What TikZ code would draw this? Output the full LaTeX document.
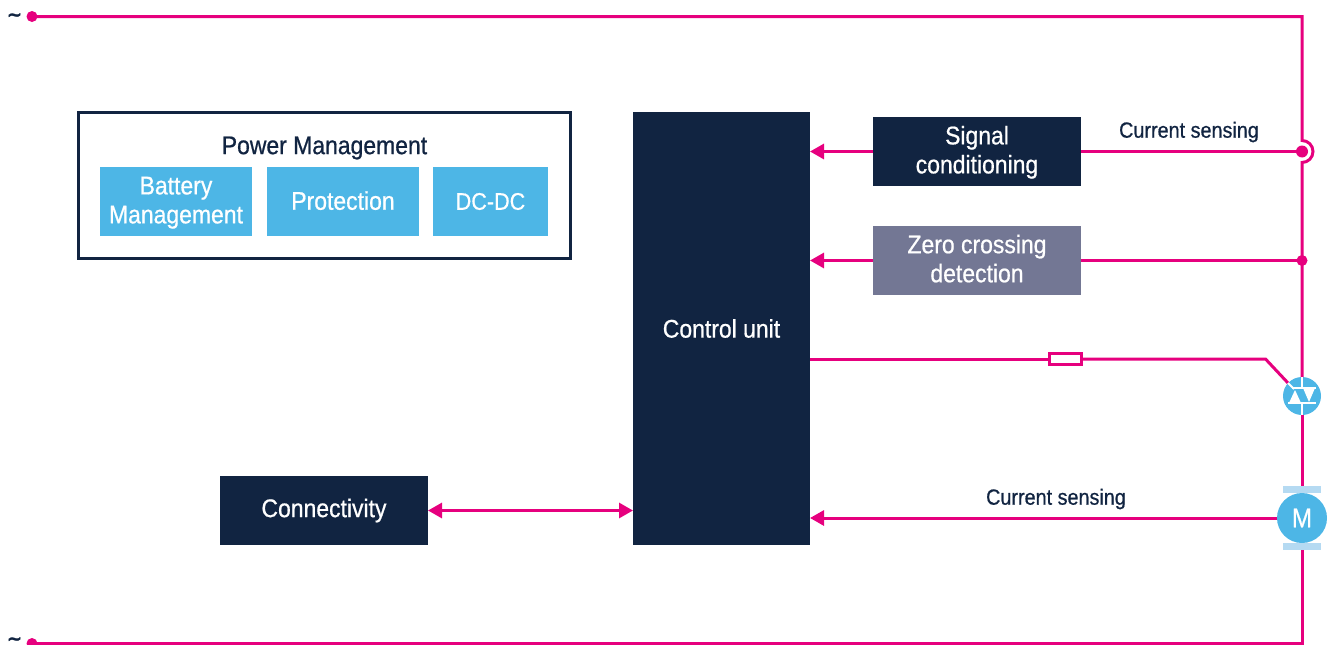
\documentclass[tikz,border=0pt]{standalone}
\usepackage{fontspec}
\setmainfont{Liberation Sans}[FakeStretch=0.9,FakeBold=0.7]
\newfontfamily\tildefont{DejaVu Sans Bold}[FakeBold=1.5]
\usetikzlibrary{arrows.meta,calc}
\definecolor{navy}{HTML}{112441}
\definecolor{wire}{HTML}{E6007E}
\definecolor{sky}{HTML}{4DB6E6}
\definecolor{pale}{HTML}{B5DAF2}
\definecolor{slate}{HTML}{737794}
\tikzset{
  x=1pt,y=-1pt,
  wireline/.style={draw=wire,line width=3pt},
  arrowed/.style={wireline,-{Triangle[length=14pt,width=15pt]}},
  biarrow/.style={wireline,{Triangle[length=14pt,width=15pt]}-{Triangle[length=14pt,width=15pt]}},
  blockbox/.style={draw=none,inner sep=0pt,outer sep=0pt,align=center,text=white,font=\fontsize{25.5}{29}\selectfont},
  darkbox/.style={blockbox,fill=navy},
  greybox/.style={blockbox,fill=slate},
  lightbox/.style={blockbox,fill=sky},
  labeltext/.style={inner sep=0pt,text=navy,font=\fontsize{22}{27}\selectfont},
  tildetext/.style={inner sep=0pt,text=navy,font=\tildefont\fontsize{18}{18}\selectfont},
  dotnode/.style={circle,fill=wire,inner sep=0pt,outer sep=0pt},
  whitestroke/.style={draw=white,line width=2pt},
  whitetri/.style={fill=white,draw=none},
}
\begin{document}
\begin{tikzpicture}
\useasboundingbox (0,0) rectangle (1328,645);
\node[draw=navy,line width=3pt,fill=white,minimum width=492pt,minimum height=146pt,inner sep=0pt] (pm) at (324.5,185.5) {};
\node[labeltext,font=\fontsize{25.5}{29}\selectfont] (pmt) at (324.5,148) {Power Management};
\node[lightbox,minimum width=152pt,minimum height=69pt] (bat) at (176,201.5) {\rule{0pt}{20pt}Battery\\Management};
\node[lightbox,minimum width=152pt,minimum height=69pt] (pro) at (343,201.5) {Protection\rule[-2pt]{0pt}{0pt}};
\node[lightbox,minimum width=115pt,minimum height=69pt,font=\fontsize{24}{29}\selectfont] (dc) at (490.5,201.5) {DC-DC};
\node[darkbox,minimum width=177pt,minimum height=433pt] (cu) at (721.5,328.5) {Control unit};
\node[darkbox,minimum width=208pt,minimum height=69pt] (sig) at (977,151.5) {\rule{0pt}{20pt}Signal\\conditioning};
\node[greybox,minimum width=208pt,minimum height=69pt] (zero) at (977,260.5) {Zero crossing\\detection\rule[-4pt]{0pt}{0pt}};
\node[darkbox,minimum width=208pt,minimum height=69pt] (conn) at (324,510.5) {Connectivity};
% terminals and junctions
\node[dotnode,minimum size=11pt] (tl) at (32,16.5) {};
\node[dotnode,minimum size=11pt] (bl) at (32,643.5) {};
\coordinate (tr) at (1302,16.5);
\coordinate (br) at (1302,643.5);
\node[dotnode,minimum size=12pt] (js) at (1302,151.5) {};
\node[dotnode,minimum size=11pt] (jz) at (1302,260.5) {};
\node[circle,fill=sky,inner sep=0pt,outer sep=0pt,minimum size=38pt] (tri) at (1302,396) {};
\node[circle,fill=sky,inner sep=0pt,outer sep=0pt,minimum size=50pt,text=white,font=\fontsize{27}{29}\selectfont] (mot) at (1302,518) {M};
\node[fill=pale,inner sep=0pt,minimum width=38pt,minimum height=7pt] (bt) at (1302,489.5) {};
\node[fill=pale,inner sep=0pt,minimum width=38pt,minimum height=7pt] (bb) at (1302,546.5) {};
\node[labeltext] (cs1) at (1189,132) {Current sensing};
\node[labeltext] (cs2) at (1056,499) {Current sensing};
\node[tildetext] (t1) at (14.5,17) {\char"007E};
\node[tildetext] (t2) at (14.5,641) {\char"007E};
% main rail
\draw[wireline] (tl.center) -- (tr) -- (1302,140.5) arc[start angle=90,end angle=-90,radius=11pt] -- (tri.north);
\draw[wireline] (tri.south) -- (bt.north);
\draw[wireline] (bb.south) -- (br) -- (bl.center);
% branches
\draw[wireline] (js.center) -- (sig.east);
\draw[arrowed] (sig.west) -- (sig.west -| cu.east);
\draw[wireline] (jz.center) -- (zero.east);
\draw[arrowed] (zero.west) -- (zero.west -| cu.east);
\coordinate (gate0) at (cu.east |- 0,359);
\coordinate (gate1) at (1265.5,359);
\coordinate (gate2) at (1288,383);
\coordinate (gate3) at (1294,389);
\node[draw=wire,line width=2.6pt,fill=white,minimum width=32pt,minimum height=11pt,inner sep=0pt] (res) at (1065.5,359) {};
\draw[wireline] (gate0) -- (res.west);
\draw[wireline] (res.east) -- (gate1) -- (gate2);
\draw[arrowed] (mot.west) -- (mot.west -| cu.east);
\draw[biarrow] (conn.east) -- (conn.east -| cu.west);
% triac symbol
\draw[whitestroke] (1292,388) -- (1316,388);
\draw[whitestroke] (1288,403) -- (1316,403);
\draw[whitestroke] (tri.north) -- (1302,388);
\draw[whitestroke] (1302,403) -- (tri.south);
\draw[whitestroke] (gate2) -- (gate3);
\fill[whitetri] (1303,388) -- (1315,388) -- (1309,402) -- cycle;
\fill[whitetri] (1289,403) -- (1301,403) -- (1295,390) -- cycle;
\end{tikzpicture}
\end{document}
